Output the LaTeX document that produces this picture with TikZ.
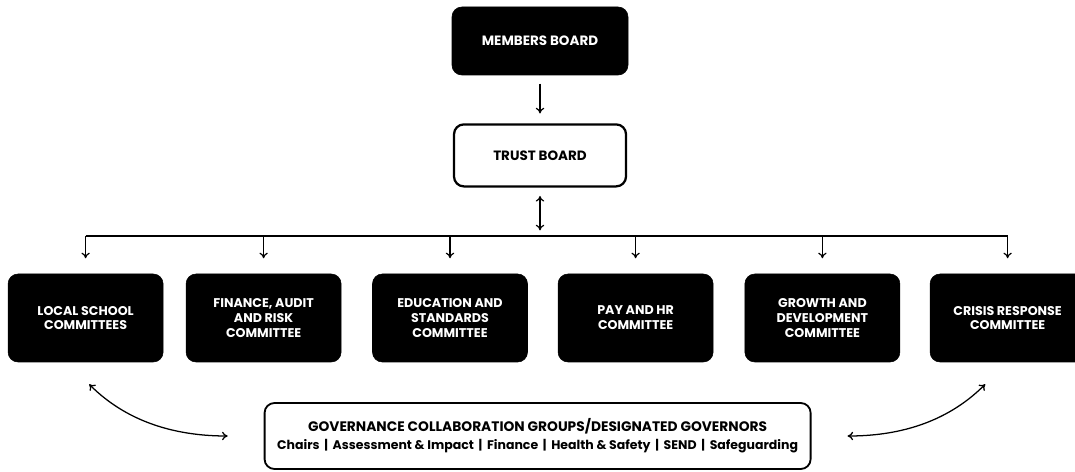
\documentclass[tikz,border=0pt]{standalone}
\usepackage{fontspec}
\setmainfont{Poppins}
\usetikzlibrary{arrows.meta,positioning}
\definecolor{Ink}{RGB}{0,0,0}
\definecolor{Paper}{RGB}{255,255,255}
\tikzset{
  >={To[length=4pt,width=6pt]},
  board/.style={draw=Ink,rounded corners=7pt,align=center,font=\bfseries\fontsize{9}{10.6}\selectfont,inner sep=2pt},
  darkboard/.style={board,fill=Ink,text=Paper,minimum width=4.4cm,minimum height=1.7cm,font=\bfseries\fontsize{9.6}{11}\selectfont},
  lightboard/.style={board,line width=1.6pt,fill=Paper,text=Ink,minimum width=4.3cm,minimum height=1.55cm,font=\bfseries\fontsize{9.6}{11}\selectfont},
  committee/.style={board,fill=Ink,text=Paper,minimum width=3.875cm,minimum height=2.2cm},
  groupbox/.style={board,line width=1.3pt,fill=Paper,text=Ink,minimum width=13.65cm,minimum height=1.65cm,font=\bfseries\fontsize{9.8}{12}\selectfont},
  feed/.style={->,line width=.85pt,draw=Ink},
  bus/.style={line width=1pt,draw=Ink},
  swing/.style={<->,line width=.9pt,draw=Ink}
}
\begin{document}
\begin{tikzpicture}[x=1cm,y=1cm]
  \useasboundingbox (0,0) rectangle (26.875,11.775);
  % top of the structure
  \node[darkboard] (members) at (13.5,10.75) {MEMBERS BOARD};
  \node[lightboard] (trust) at (13.5,7.89) {TRUST BOARD};
  \coordinate (hub) at (13.5,5.875);
  % committees
  \node[committee] (lsc) at (2.14,3.825) {LOCAL SCHOOL\\COMMITTEES};
  \node[committee] (far) at (6.59,3.825) {FINANCE, AUDIT\\AND RISK\\COMMITTEE};
  \node[committee] (eas) at (11.25,3.825) {EDUCATION AND\\STANDARDS\\COMMITTEE};
  \node[committee] (phr) at (15.89,3.825) {PAY AND HR\\COMMITTEE};
  \node[committee] (gad) at (20.56,3.825) {GROWTH AND\\DEVELOPMENT\\COMMITTEE};
  \node[committee] (crc) at (25.19,3.825) {CRISIS RESPONSE\\COMMITTEE};
  % collaboration groups
  \node[groupbox] (gov) at (13.44,0.875) {GOVERNANCE COLLABORATION GROUPS/DESIGNATED GOVERNORS\\[1pt]
    {\fontsize{8.9}{10}\selectfont Chairs \,|\, Assessment \& Impact \,|\, Finance \,|\, Health \& Safety \,|\, SEND \,|\, Safeguarding}};
  % links
  \draw[feed,shorten <=6pt,shorten >=7pt] (members) -- (trust);
  \draw[feed,<->,shorten <=6pt,shorten >=4pt] (trust) -- (hub);
  \draw[bus] (lsc.north |- hub) -- (crc.north |- hub);
  \foreach \c in {lsc,far,eas,phr,gad,crc}
    \draw[feed,shorten >=11pt] (\c.north |- hub) -- (\c.north);
  \draw[swing] ([shift={(0.09,-0.55)}]lsc.south) .. controls +(1.0,-1.0) and +(-1.2,0) .. ([xshift=-0.9cm]gov.west);
  \draw[swing] ([shift={(-0.56,-0.55)}]crc.south) .. controls +(-1.0,-1.0) and +(1.2,0) .. ([xshift=0.9cm]gov.east);
\end{tikzpicture}
\end{document}
